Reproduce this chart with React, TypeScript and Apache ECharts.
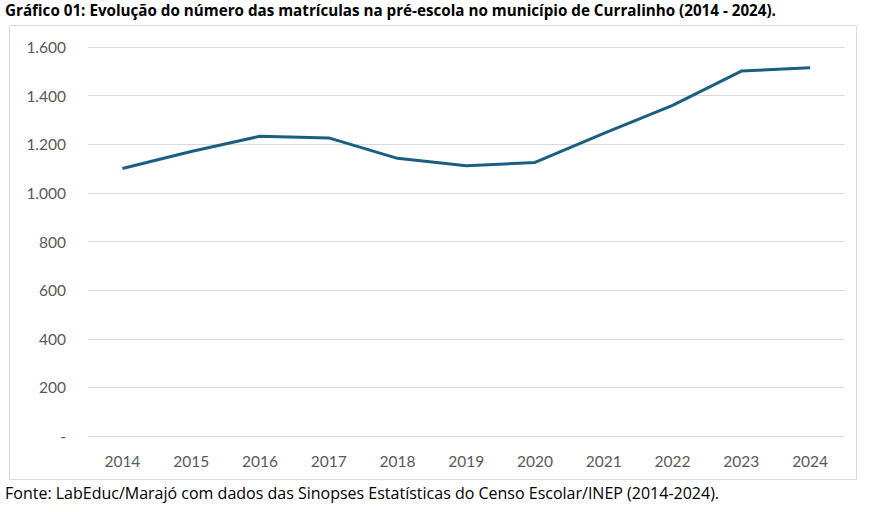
import React, { useEffect, useRef } from "react";
import * as echarts from "echarts";

const years = ["2014", "2015", "2016", "2017", "2018", "2019", "2020", "2021", "2022", "2023", "2024"];
const enrollments = [1100, 1170, 1233, 1226, 1142, 1112, 1125, 1245, 1360, 1501, 1515];
const titleText = "Gráfico 01: Evolução do número das matrículas na pré-escola no município de Curralinho (2014 - 2024).";
const sourceText = "Fonte: LabEduc/Marajó com dados das Sinopses Estatísticas do Censo Escolar/INEP (2014-2024).";

export default function App() {
  const ref = useRef<HTMLDivElement>(null);
  useEffect(() => {
    if (!ref.current) return;
    const chart = echarts.init(ref.current, null, { renderer: "svg" });
    chart.setOption({
      animation: false,
      backgroundColor: "#ffffff",
      textStyle: { fontFamily: "Lato" },
      grid: { left: 88, right: 29.5, top: 47, bottom: 76 },
      graphic: [
        {
          type: "rect",
          shape: { x: 9.5, y: 25.5, width: 847, height: 454 },
          style: { fill: "none", stroke: "#d9d9d9", lineWidth: 1 },
          z: -1,
        },
        {
          type: "text",
          left: 5,
          top: 2,
          style: { text: titleText, font: "bold 15.2px 'Open Sans'", fill: "#000000" },
        },
        {
          type: "text",
          left: 5,
          top: 485,
          style: { text: sourceText, font: "16px 'Open Sans'", fill: "#000000" },
        },
      ],
      xAxis: {
        type: "category",
        data: years,
        boundaryGap: true,
        axisLine: { show: false },
        axisTick: { show: false },
        axisLabel: { color: "#595959", fontSize: 15.5, margin: 17 },
      },
      yAxis: {
        type: "value",
        min: 0,
        max: 1600,
        interval: 200,
        axisLine: { show: false },
        axisTick: { show: false },
        splitLine: { lineStyle: { color: "#d9d9d9", width: 1 } },
        axisLabel: {
          color: "#595959",
          fontSize: 15.5,
          margin: 22,
          formatter: (v: number) => (v === 0 ? "-" : v.toLocaleString("pt-BR")),
        },
      },
      series: [
        {
          type: "line",
          data: enrollments,
          symbol: "none",
          lineStyle: { color: "#1b5f80", width: 3 },
        },
      ],
    });
    return () => chart.dispose();
  }, []);
  return <div ref={ref} style={{ position: "fixed", left: 0, top: 0, width: 874, height: 512 }} />;
}
